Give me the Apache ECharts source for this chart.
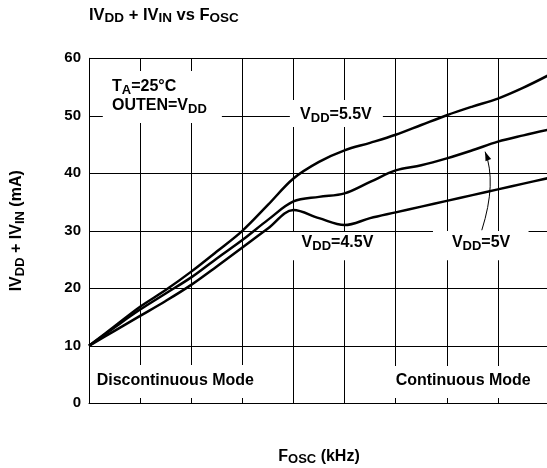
<!DOCTYPE html>
<html>
<head>
<meta charset="utf-8">
<script src="https://cdn.jsdelivr.net/npm/echarts@6/dist/echarts.min.js"></script>
<style>html,body{margin:0;padding:0;background:#fff}#c{width:547px;height:468px}</style>
</head>
<body>
<div id="c"></div>
<script>
// ---- data ----
const fosc   = [0, 0.5, 1, 1.5, 2, 2.5, 3, 3.5, 4, 4.5, 5, 5.5, 6, 6.5, 7, 7.5, 8, 8.5, 9];
const vdd55  = [10, 13.4, 16.8, 19.7, 22.9, 26.4, 30.0, 34.5, 39.1, 42.0, 44.0, 45.3, 46.7, 48.4, 50.1, 51.6, 53.0, 54.9, 57.1];
const vdd50  = [10, 13.2, 16.3, 19.1, 21.9, 25.2, 28.4, 31.9, 35.1, 35.9, 36.5, 38.5, 40.5, 41.4, 42.6, 44.0, 45.5, 46.6, 47.6];
const vdd45  = [10, 12.6, 15.2, 17.8, 20.6, 23.8, 27.1, 30.4, 33.6, 32.2, 31.0, 32.2, 33.2, 34.2, 35.2, 36.2, 37.2, 38.2, 39.2];
const yTicks = [0, 10, 20, 30, 40, 50, 60];
const seriesNames = ['VDD=5.5V', 'VDD=5V', 'VDD=4.5V'];

const FONT = '"Liberation Sans", Arial, Helvetica, sans-serif';
const sub = { fontSize: 13, fontWeight: 'bold', fontFamily: FONT, color: '#000', padding: [7, 0, 0, 0] };
const subT = { fontSize: 13.5, fontWeight: 'bold', fontFamily: FONT, color: '#000', padding: [7, 0, 0, 0] };
const subG = { fontSize: 13, fontWeight: 'bold', fontFamily: FONT, fill: '#000', padding: [7, 0, 0, 0] };

const chart = echarts.init(document.getElementById('c'), null, { renderer: 'canvas' });

const lineStyle = { color: '#000', width: 2.5 };
const mk = (name, vals) => ({
  name, type: 'line', smooth: 0.35, showSymbol: false, symbol: 'none',
  data: fosc.map((x, i) => [x, vals[i]]),
  lineStyle, itemStyle: { color: '#000' }, z: 3, silent: true
});

const option = {
  animation: false,
  backgroundColor: '#fff',
  title: {
    text: 'IV{sub|DD} + IV{sub|IN} vs F{sub|OSC}',
    left: 89, top: 4.5, padding: 0,
    textStyle: { fontSize: 16.5, fontWeight: 'bold', fontFamily: FONT, color: '#000', rich: { sub: subT } }
  },
  grid: { left: 89, top: 58.3, right: -2, bottom: 64.7, containLabel: false, outerBoundsMode: 'none' },
  xAxis: {
    type: 'value', min: 0, max: 9, interval: 1,
    name: 'F{sub|OSC} (kHz)', nameLocation: 'middle', nameGap: 43,
    nameTextStyle: { fontSize: 16, fontWeight: 'bold', fontFamily: FONT, color: '#000', rich: { sub } },
    axisLine: { show: true, lineStyle: { color: '#000', width: 1 } },
    axisTick: { show: false },
    axisLabel: { show: false },
    splitLine: { show: true, lineStyle: { color: '#000', width: 1 } }
  },
  yAxis: {
    type: 'value', min: yTicks[0], max: yTicks[yTicks.length - 1], interval: yTicks[1] - yTicks[0],
    name: 'IV{sub|DD} + IV{sub|IN} (mA)', nameLocation: 'middle', nameGap: 62, nameRotate: 90,
    nameTextStyle: { fontSize: 16, fontWeight: 'bold', fontFamily: FONT, color: '#000', rich: { sub } },
    axisLine: { show: true, lineStyle: { color: '#000', width: 1 } },
    axisTick: { show: false },
    axisLabel: { fontSize: 15, fontWeight: 'bold', fontFamily: FONT, color: '#000', margin: 8 },
    splitLine: { show: true, lineStyle: { color: '#000', width: 1 } }
  },
  series: [mk(seriesNames[0], vdd55), mk(seriesNames[1], vdd50), mk(seriesNames[2], vdd45)]
};
chart.setOption(option);

// ---- annotations, placed in data coordinates ----
const px = (x, y) => chart.convertToPixel({ gridIndex: 0 }, [x, y]);
const boxes = [
  [0.27, 57.8, 2.60, 48.75],   // TA box
  [3.93, 52.75, 5.75, 48.05],  // 5.5V
  [3.89, 29.8, 5.79, 24.9],    // 4.5V
  [6.73, 29.97, 8.60, 24.9],   // 5V
  [0.02, 6.67, 3.38, 0.92],    // Discontinuous
  [5.85, 6.50, 9.5, 0.92]      // Continuous
];
const labels = [
  ['T{sub|A}=25°C', 0.45, 55.1],
  ['OUTEN=V{sub|DD}', 0.45, 51.8],
  ['V{sub|DD}=5.5V', 4.13, 50.2],
  ['V{sub|DD}=4.5V', 4.16, 27.97],
  ['V{sub|DD}=5V', 7.10, 27.97],
  ['Discontinuous Mode', 0.15, 3.97],
  ['Continuous Mode', 6.0, 3.97]
];
const graphic = [];
boxes.forEach(b => {
  const p0 = px(b[0], b[1]), p1 = px(b[2], b[3]);
  graphic.push({
    type: 'rect', z: 5, silent: true,
    shape: { x: Math.min(p0[0], p1[0]), y: Math.min(p0[1], p1[1]), width: Math.abs(p1[0] - p0[0]), height: Math.abs(p1[1] - p0[1]) },
    style: { fill: '#fff' }
  });
});
labels.forEach(l => {
  const p = px(l[1], l[2]);
  graphic.push({
    type: 'text', z: 6, silent: true, x: p[0], y: p[1],
    style: {
      text: l[0], fill: '#000', fontSize: 16, fontWeight: 'bold', fontFamily: FONT,
      align: 'left', verticalAlign: 'middle', rich: { sub: subG }
    }
  });
});
// arrow from the 5V label up to its curve
const a0 = px(7.685, 30.1), ac = px(7.98, 38.4), a1 = px(7.75, 43.76);
graphic.push({
  type: 'bezierCurve', z: 6, silent: true,
  shape: { x1: a0[0], y1: a0[1], cpx1: ac[0], cpy1: ac[1], x2: a1[0], y2: a1[1] },
  style: { stroke: '#000', lineWidth: 1, fill: null }
});
(function () {
  let dx = a1[0] - ac[0], dy = a1[1] - ac[1];
  const len = Math.hypot(dx, dy); dx /= len; dy /= len;
  const L = 9, W = 3;
  const bx = a1[0] - dx * L, by = a1[1] - dy * L;
  graphic.push({
    type: 'polygon', z: 6, silent: true,
    shape: { points: [[a1[0], a1[1]], [bx - dy * W, by + dx * W], [bx + dy * W, by - dx * W]] },
    style: { fill: '#000' }
  });
})();
chart.setOption({ graphic });
</script>
</body>
</html>
